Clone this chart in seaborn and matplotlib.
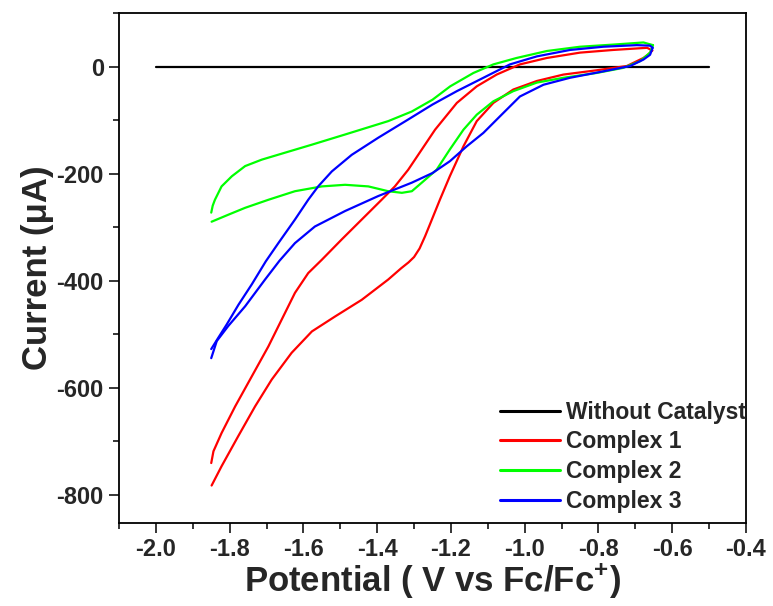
import numpy as np
import pandas as pd
import matplotlib
matplotlib.use("Agg")
import matplotlib.pyplot as plt
from matplotlib.ticker import MultipleLocator
import seaborn as sns

# Cyclic voltammograms: potential (V vs Fc/Fc+) and current (uA)
blank_v = [-2.0, -0.5]
blank_i = [0.0, 0.0]

# Complex 1: cathodic sweep, then return sweep
c1_fwd_v = [-0.654, -0.666, -0.678, -0.723, -0.805, -0.895, -0.967, -1.031, -1.085, -1.130,
            -1.166, -1.203, -1.230, -1.257, -1.270, -1.285, -1.300, -1.315, -1.335, -1.370,
            -1.442, -1.514, -1.577, -1.632, -1.686, -1.731, -1.777, -1.822, -1.849]
c1_fwd_i = [30, 22, 16, 1, -7, -15, -27, -43, -68, -102,
            -149, -205, -249, -295, -317, -340, -356, -366, -377, -398,
            -436, -467, -495, -535, -585, -635, -691, -747, -783]
c1_rev_v = [-1.850, -1.844, -1.822, -1.785, -1.740, -1.695, -1.659, -1.623, -1.587, -1.550,
            -1.496, -1.442, -1.388, -1.352, -1.316, -1.279, -1.243, -1.184, -1.130, -1.076,
            -1.013, -0.940, -0.850, -0.760, -0.668, -0.654]
c1_rev_i = [-741, -719, -685, -635, -579, -523, -473, -423, -386, -361,
            -323, -286, -249, -224, -193, -155, -118, -68, -37, -15,
            4, 16, 26, 31, 35, 30]

# Complex 2
c2_fwd_v = [-0.652, -0.660, -0.687, -0.733, -0.805, -0.895, -0.967, -1.031, -1.085, -1.130,
            -1.166, -1.203, -1.239, -1.279, -1.306, -1.333, -1.370, -1.424, -1.487, -1.550,
            -1.623, -1.695, -1.758, -1.804, -1.849]
c2_fwd_i = [40, 26, 10, -2.5, -12, -21, -30, -46, -65, -90,
            -118, -155, -193, -217, -233, -236, -233, -224, -221, -224,
            -233, -249, -264, -277, -290]
c2_rev_v = [-1.850, -1.846, -1.840, -1.822, -1.794, -1.758, -1.713, -1.650, -1.577, -1.487,
            -1.370, -1.306, -1.250, -1.202, -1.139, -1.085, -1.022, -0.940, -0.850, -0.760,
            -0.678, -0.652]
c2_rev_i = [-273, -260, -249, -224, -205, -186, -174, -161, -146, -127,
            -102, -84, -62, -37, -12, 4, 16, 29, 37, 41,
            45, 40]

# Complex 3
c3_fwd_v = [-0.653, -0.660, -0.678, -0.714, -0.787, -0.877, -0.949, -1.013, -1.067, -1.112,
            -1.157, -1.203, -1.250, -1.306, -1.397, -1.487, -1.569, -1.623, -1.665, -1.704,
            -1.758, -1.804, -1.835, -1.850]
c3_fwd_i = [35, 22, 13, 1, -9, -21, -34, -56, -93, -124,
            -149, -177, -199, -217, -242, -270, -299, -330, -363, -398,
            -448, -485, -513, -545]
c3_rev_v = [-1.850, -1.831, -1.808, -1.776, -1.740, -1.702, -1.668, -1.623, -1.587, -1.560,
            -1.523, -1.469, -1.397, -1.316, -1.250, -1.184, -1.112, -1.040, -0.967, -0.877,
            -0.787, -0.696, -0.660, -0.653]
c3_rev_i = [-528, -507, -482, -445, -407, -364, -330, -286, -249, -224,
            -196, -165, -133, -99, -71, -46, -21, 4, 19, 31,
            37, 40, 39, 35]

labels = ["Without Catalyst", "Complex 1", "Complex 2", "Complex 3"]
colors = ["#000000", "#FF0000", "#00FF00", "#0000FF"]

frames = [pd.DataFrame({"V": blank_v, "I": blank_i, "series": labels[0], "branch": "fwd"})]
for lab, fv, fi, rv, ri in [
    (labels[1], c1_fwd_v, c1_fwd_i, c1_rev_v, c1_rev_i),
    (labels[2], c2_fwd_v, c2_fwd_i, c2_rev_v, c2_rev_i),
    (labels[3], c3_fwd_v, c3_fwd_i, c3_rev_v, c3_rev_i),
]:
    frames.append(pd.DataFrame({"V": fv, "I": fi, "series": lab, "branch": "fwd"}))
    frames.append(pd.DataFrame({"V": rv, "I": ri, "series": lab, "branch": "rev"}))
df = pd.concat(frames, ignore_index=True)

sns.set_theme(style="white")
plt.rcParams["font.family"] = ["Liberation Sans", "DejaVu Sans"]
plt.rcParams["font.weight"] = "bold"
plt.rcParams["mathtext.default"] = "regular"
plt.rcParams["axes.unicode_minus"] = False

fig = plt.figure(figsize=(7.73, 6.06), dpi=100)
ax = fig.add_axes([0.154, 0.137, 0.811, 0.8415])

sns.lineplot(data=df, x="V", y="I", hue="series", hue_order=labels,
             palette=dict(zip(labels, colors)), units="branch", estimator=None,
             sort=False, linewidth=1.6, ax=ax)

ax.set_xlim(-2.1, -0.4)
ax.set_ylim(-853, 100)
xt = np.arange(-2.0, -0.39, 0.2)
ax.set_xticks(xt)
ax.set_xticklabels([f"{t:.1f}" for t in xt])
ax.xaxis.set_minor_locator(MultipleLocator(0.1))
ax.yaxis.set_major_locator(MultipleLocator(200))
ax.yaxis.set_minor_locator(MultipleLocator(100))

ax.tick_params(axis="both", which="major", direction="out", length=7, width=1.3,
               labelsize=17, bottom=True, left=True, top=False, right=False, pad=4)
ax.tick_params(axis="both", which="minor", direction="out", length=4, width=1.3,
               bottom=True, left=True, top=False, right=False)
for lbl in ax.get_xticklabels() + ax.get_yticklabels():
    lbl.set_fontweight("bold")
for sp in ax.spines.values():
    sp.set_visible(True)
    sp.set_color("black")
    sp.set_linewidth(1.3)

ax.set_xlabel("Potential ( V vs Fc/Fc$^{+}$)", fontsize=25, fontweight="bold", labelpad=0)
ax.set_ylabel("Current (μA)", fontsize=25, fontweight="bold", labelpad=2)

leg = ax.legend(loc="upper left", bbox_to_anchor=(0.608, 0.24), frameon=False,
                fontsize=16.5, handlelength=2.6, handletextpad=0.25, labelspacing=0.3,
                borderpad=0, borderaxespad=0)
for t in leg.get_texts():
    t.set_fontweight("bold")
for h in leg.get_lines():
    h.set_linewidth(2.2)

fig.savefig("out.png", dpi=100)
